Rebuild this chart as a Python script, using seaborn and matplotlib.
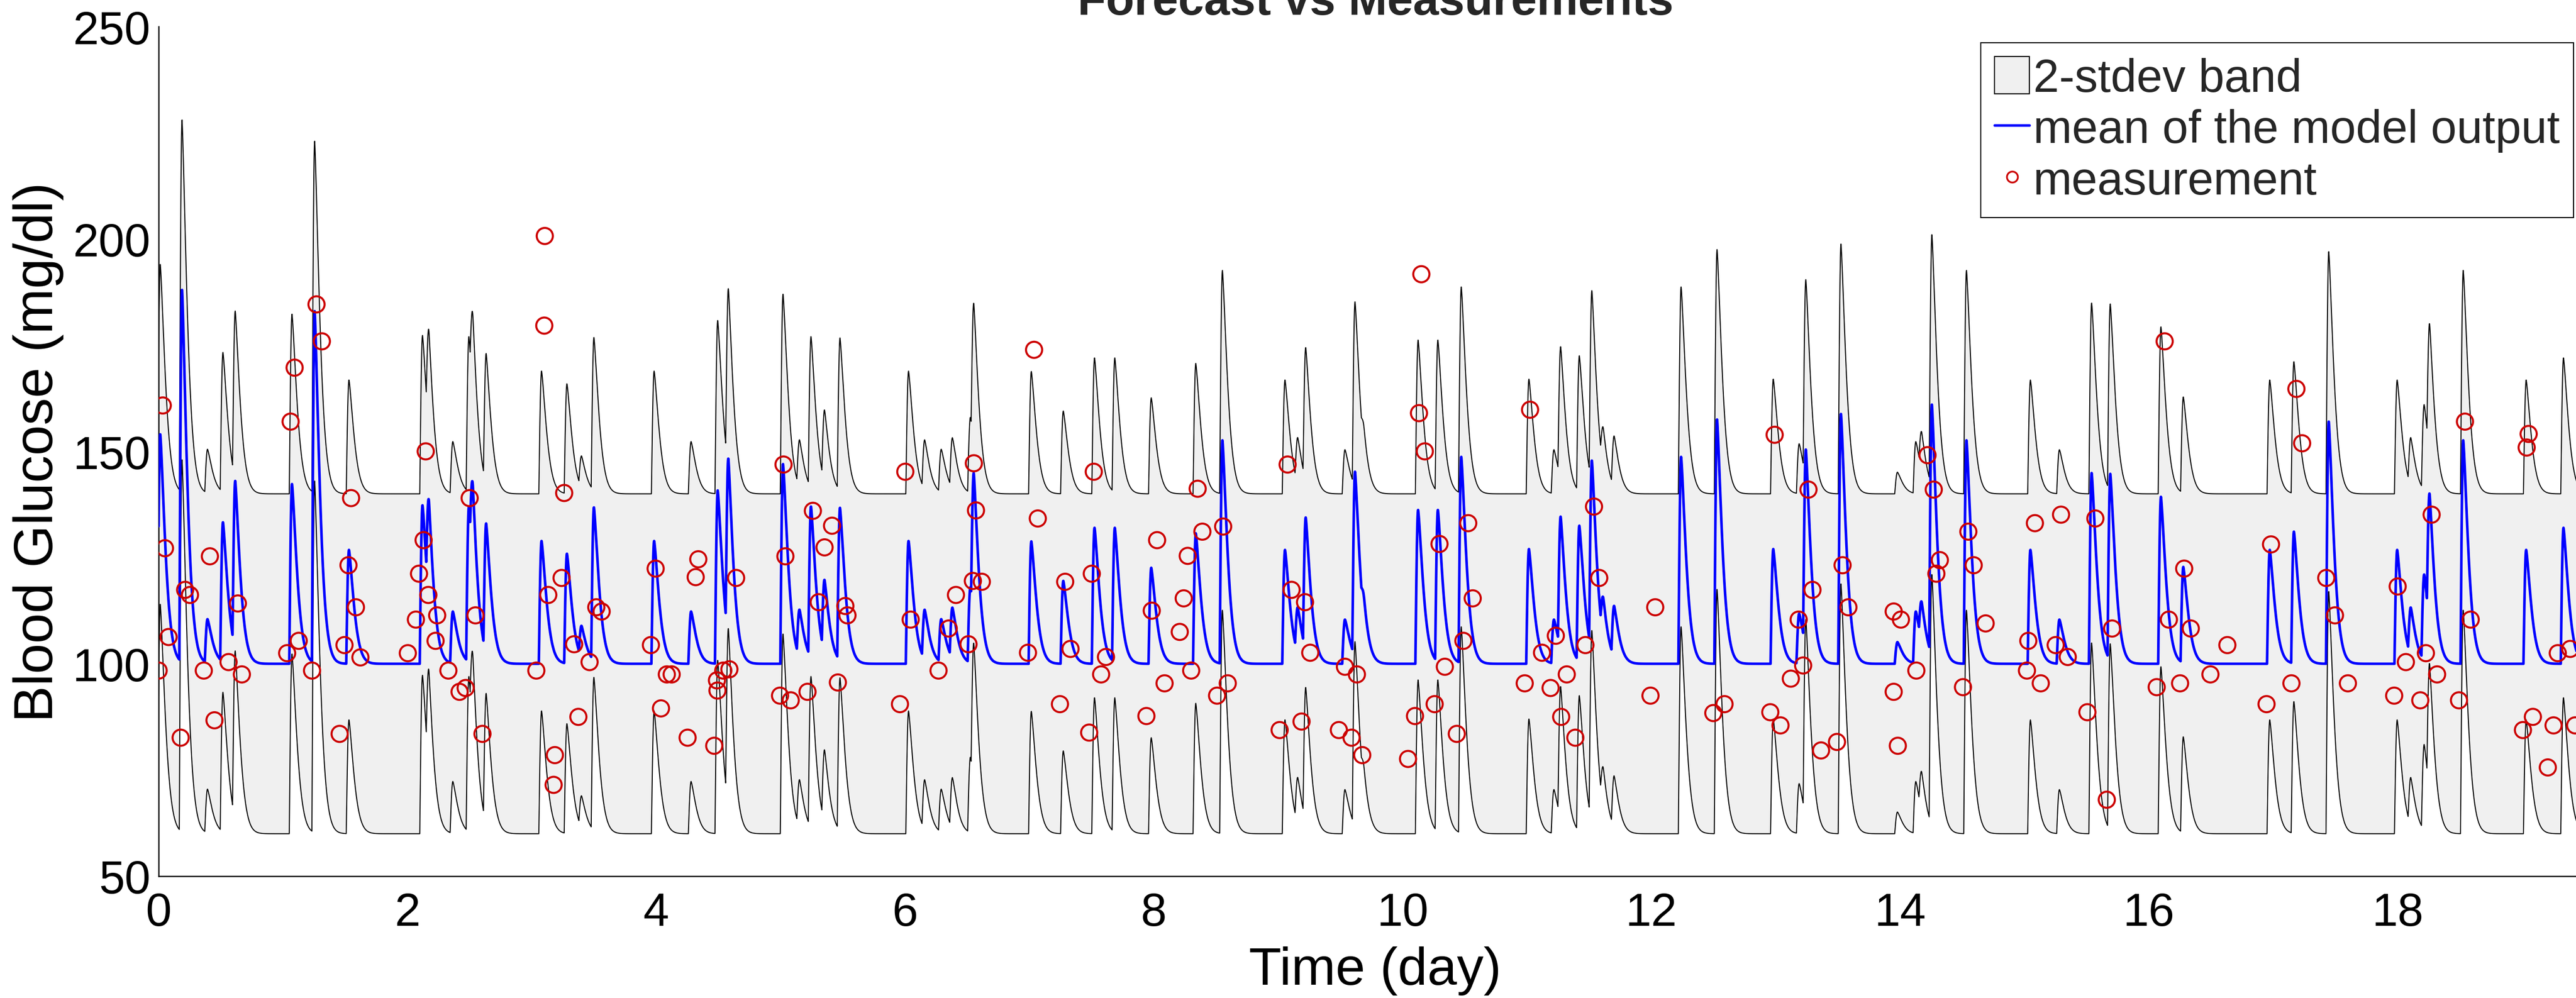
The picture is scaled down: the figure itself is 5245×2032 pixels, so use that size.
import numpy as np
import pandas as pd
import matplotlib
matplotlib.use("Agg")
import matplotlib.pyplot as plt
import seaborn as sns
from matplotlib.patches import Patch
from matplotlib.lines import Line2D

# ---------------- data ----------------
# peaks of the mean model output: time of peak (day) and peak level (mg/dl)
peak_time = [0.013, 0.188, 0.393, 0.517, 0.616, 1.072, 1.254, 1.530, 2.121, 2.173,
             2.365, 2.494, 2.526, 2.633, 3.078,
             3.282, 3.400, 3.499, 3.983, 4.280, 4.494, 4.580, 5.019, 5.152, 5.244,
             5.353, 5.477, 6.028, 6.158, 6.291, 6.381,
             6.525, 6.553, 7.015, 7.272, 7.523, 7.686, 7.979, 8.337, 8.551, 9.054,
             9.157, 9.221, 9.536, 9.617, 9.690,
             10.124, 10.283, 10.471, 11.015, 11.216, 11.270, 11.420, 11.521, 11.613,
             11.700, 12.238, 12.527, 12.979,
             13.187, 13.241, 13.523, 13.977, 14.125, 14.172, 14.254, 14.532, 15.046,
             15.279, 15.538, 15.688, 16.095, 16.275,
             16.970, 17.164, 17.444, 17.994, 18.104, 18.211, 18.255, 18.525, 19.031,
             19.331]
peak_level = [154, 188, 110.5, 133.3, 143, 142.3, 183, 126.8, 137.3, 138.2,
              112.3, 137, 141.8, 133, 128.9,
              125.9, 108.9, 136.8, 128.9, 112.3, 140.8, 148.2, 147, 112.7, 137,
              119.7, 136.7, 128.9, 112.7, 110.5, 113.2,
              118, 144.7, 128.8, 119.5, 132, 132, 122.6, 130.7, 152.6, 126.8,
              113.2, 134.4, 110.4, 145.2, 115.4,
              136.2, 136.2, 148.7, 127, 110.4, 134.6, 132.5, 147.8, 115.4,
              113.6, 148.7, 157.5, 127,
              111.8, 150.4, 158.8, 105.1, 112.3, 114.5, 161, 152.6, 126.8,
              110.4, 144.9, 144.7, 139.3, 122.8,
              126.8, 131.1, 157, 126.8, 113.2, 121, 139.9, 152.6, 126.8,
              132]
baseline = 100.0
band_half_width = 40.0

# measurements (day, mg/dl)
meas_time = [0.00, 0.033, 0.051, 0.080, 0.177, 0.213, 0.252, 0.363, 0.412, 0.449,
             0.562, 0.637, 0.669, 1.033, 1.061, 1.093, 1.126, 1.233, 1.269, 1.312,
             1.455, 1.494, 1.526, 1.547, 1.586, 1.622, 2.003, 2.068, 2.093, 2.130,
             2.147, 2.168, 2.226, 2.239, 2.329, 2.419, 2.468, 2.500, 2.547, 2.603,
             3.036, 3.100, 3.104, 3.132, 3.175, 3.185, 3.239, 3.260,
             3.340, 3.374, 3.464, 3.518, 3.561, 3.957, 3.995, 4.038, 4.085, 4.124,
             4.252, 4.317, 4.338, 4.466, 4.488, 4.492, 4.539, 4.588, 4.642, 4.995,
             5.023, 5.038, 5.081, 5.216, 5.259, 5.306, 5.353, 5.413, 5.460, 5.520,
             5.537, 5.959, 6.002, 6.045, 6.269, 6.351, 6.409,
             6.510, 6.545, 6.553, 6.570, 6.617, 6.988, 7.037, 7.067, 7.245, 7.287,
             7.330, 7.480, 7.501, 7.517, 7.576, 7.615, 7.940, 7.983, 8.026, 8.086,
             8.208, 8.240, 8.272, 8.300, 8.352, 8.390, 8.508, 8.557, 8.594, 9.011,
             9.075, 9.107, 9.187, 9.215, 9.257, 9.487, 9.536, 9.589, 9.632, 9.675,
             10.043, 10.099, 10.131, 10.150, 10.178, 10.257, 10.296, 10.339, 10.435,
             10.488, 10.527, 10.563, 10.981, 11.024, 11.120, 11.189, 11.231, 11.274,
             11.319, 11.388, 11.469, 11.538, 11.580, 11.992, 12.030, 12.497, 12.587,
             12.955, 12.990, 13.037, 13.120,
             13.183, 13.219, 13.262, 13.294, 13.363, 13.491, 13.536, 13.583, 13.947,
             13.947, 13.980, 14.005, 14.129, 14.219, 14.269, 14.290, 14.318, 14.504,
             14.547, 14.590, 14.686, 15.018, 15.029, 15.082, 15.129, 15.249, 15.292,
             15.346, 15.504, 15.568, 15.660, 15.703, 16.061, 16.125, 16.159, 16.249,
             16.282, 16.335,
             16.493, 16.629, 16.944, 16.980, 17.144, 17.184, 17.230, 17.424, 17.494,
             17.598, 17.970, 17.998, 18.064, 18.180, 18.225, 18.271, 18.315, 18.491,
             18.539, 18.585, 19.005, 19.035, 19.051, 19.085, 19.205, 19.251, 19.285,
             19.385, 19.425]
meas_value = [98.4, 160.8, 127.2, 106.3, 82.6, 117.4, 116.2, 98.4, 125.3, 86.7,
              100.4, 114.2, 97.5, 102.5, 157, 169.7, 105.4, 98.4, 184.6, 175.9,
              83.5, 104.4, 123.2, 139, 113.3, 101.5, 102.5, 110.4, 121.2, 129.1,
              150, 116.2, 105.4, 111.4, 98.4, 93.4, 94.3, 139, 111.4, 83.5,
              98.4, 179.6, 200.7, 116.2, 71.5, 78.5, 120.2, 140.2,
              104.6, 87.5, 100.4, 113.3, 112.3, 104.4, 122.4, 89.5, 97.5, 97.5,
              82.6, 120.4, 124.6, 80.7, 96.1, 93.7, 98.4, 98.7, 120.2, 92.5,
              146.9, 125.3, 91.4, 93.4, 136, 114.5, 127.4, 132.5, 95.6, 113.6,
              111.4, 90.5, 145.2, 110.4, 98.4, 108.3, 116.2,
              104.6, 119.5, 147.2, 136.1, 119.3, 102.6, 173.9, 134.2, 90.5, 119.3,
              103.5, 83.8, 121.2, 145.2, 97.5, 101.6, 87.7, 112.5, 129.1, 95.4,
              107.5, 115.4, 125.4, 98.4, 141.2, 131.1, 92.5, 132.3, 95.4, 84.4,
              146.9, 117.4, 86.4, 114.5, 102.6, 84.4, 99.3, 82.6, 97.5, 78.5,
              77.6, 87.7, 159, 191.7, 150, 90.5, 128.2, 99.3, 83.5,
              105.4, 133.1, 115.4, 95.4, 159.8, 102.6, 94.3, 106.6, 87.5,
              97.5, 82.6, 104.4, 137, 120.2, 92.5, 113.3, 88.4, 90.5,
              88.6, 153.9, 85.5, 96.5,
              110.4, 99.6, 141, 117.4, 79.6, 81.6, 123.2, 113.3, 112.3,
              93.4, 80.7, 110.4, 98.4, 149.1, 141, 121.2, 124.4, 94.5,
              131.1, 123.2, 109.5, 98.4, 105.4, 133.1, 95.4, 104.4, 135.1,
              101.6, 88.6, 134.2, 68, 108.3, 94.5, 175.9, 110.4, 95.4,
              122.4, 108.3,
              97.5, 104.4, 90.5, 128.1, 95.4, 164.7, 151.9, 120.2, 111.4,
              95.4, 92.5, 118.2, 100.4, 91.4, 102.5, 135.1, 97.5, 91.4,
              157, 110.4, 84.4, 150.9, 154.1, 87.5, 75.6, 85.5, 102.5,
              103.5, 85.5]

x_ticks = [0, 2, 4, 6, 8, 10, 12, 14, 16, 18]
y_ticks = [50, 100, 150, 200, 250]
legend_labels = ["2-stdev band", "mean of the model output", "measurement"]

# ---------------- build the model curve from the read peaks ----------------
T_END = 19.56
t = np.arange(0.0, T_END + 1e-9, 0.0005)


def meal_shape(dt, rise=0.022, width=0.055, power=1.35):
    out = np.zeros_like(dt)
    up = (dt >= -rise) & (dt < 0)
    out[up] = np.sin(0.5 * np.pi * (dt[up] + rise) / rise)
    down = dt >= 0
    out[down] = np.exp(-(dt[down] / width) ** power)
    return out


mean = np.full_like(t, baseline)
for tp, lvl in sorted(zip(peak_time, peak_level)):
    current = np.interp(tp, t, mean)
    amp = max(lvl - current, 0.0)
    mean = mean + amp * meal_shape(t - tp)

df = pd.DataFrame({"t": t, "mean": mean,
                   "upper": mean + band_half_width,
                   "lower": mean - band_half_width})
meas = pd.DataFrame({"t": meas_time, "v": meas_value})

# ---------------- figure ----------------
sns.set_theme(style="white")
plt.rcParams["font.family"] = ["Liberation Sans", "DejaVu Sans"]
plt.rcParams["axes.linewidth"] = 0.9

W, H = 5245, 2033
fig = plt.figure(figsize=(W / 200, H / 200), dpi=200)
ax_left, ax_bottom = 323 / W, (H - 1785) / H
ax_w, ax_h = (T_END * 253.3) / W, (1785 - 55) / H
ax = fig.add_axes([ax_left, ax_bottom, ax_w, ax_h])

band_fill = "#F0F0F0"
blue = "#0000FF"
red = "#CC0000"

ax.fill_between(df["t"], df["lower"], df["upper"], facecolor=band_fill,
                edgecolor="none", zorder=1)
sns.lineplot(data=df, x="t", y="upper", ax=ax, color="black", linewidth=0.75,
             estimator=None, sort=False, zorder=2)
sns.lineplot(data=df, x="t", y="lower", ax=ax, color="black", linewidth=0.75,
             estimator=None, sort=False, zorder=2)
sns.lineplot(data=df, x="t", y="mean", ax=ax, color=blue, linewidth=1.9,
             estimator=None, sort=False, zorder=3)
sns.scatterplot(data=meas, x="t", y="v", ax=ax, marker="o", s=140,
                zorder=4, legend=False)
sc = ax.collections[-1]
sc.set_facecolor("none")
sc.set_edgecolor(red)
sc.set_linewidth(1.5)

ax.set_xlim(0, T_END)
ax.set_ylim(50, 250)
ax.set_xticks(x_ticks)
ax.set_yticks(y_ticks)
ax.tick_params(axis="both", direction="in", length=16, width=0.8,
               labelsize=34, colors="black")
ax.tick_params(axis="x", pad=11)
ax.tick_params(axis="y", pad=6)
for s in ["top", "right"]:
    ax.spines[s].set_visible(False)
for s in ["left", "bottom"]:
    ax.spines[s].set_color("black")

ax.set_xlabel("Time (day)", fontsize=39, color="black")
ax.set_ylabel("Blood Glucose (mg/dl)", fontsize=40, color="black")
ax.xaxis.set_label_coords(0.5, -0.082)
ax.yaxis.set_label_coords(-0.039, 0.5)
ax.set_title("Forecast vs Measurements", fontsize=34, fontweight="bold",
             pad=9)

handles = [Patch(facecolor=band_fill, edgecolor="black", linewidth=0.8),
           Line2D([], [], color=blue, linewidth=1.9),
           Line2D([], [], linestyle="none", marker="o", markersize=8,
                  markerfacecolor="none", markeredgecolor=red,
                  markeredgewidth=1.3)]
leg = ax.legend(handles, legend_labels, loc="upper right",
                bbox_to_anchor=(5240 / W, 1 - 88 / H),
                bbox_transform=fig.transFigure, borderaxespad=0,
                frameon=True, fancybox=False, framealpha=1,
                edgecolor="black", fontsize=34, handlelength=0.75,
                handleheight=0.85, handletextpad=0.08, labelspacing=0.15,
                borderpad=0.3)
leg.get_frame().set_linewidth(0.8)

fig.savefig("out.png", dpi=200)
